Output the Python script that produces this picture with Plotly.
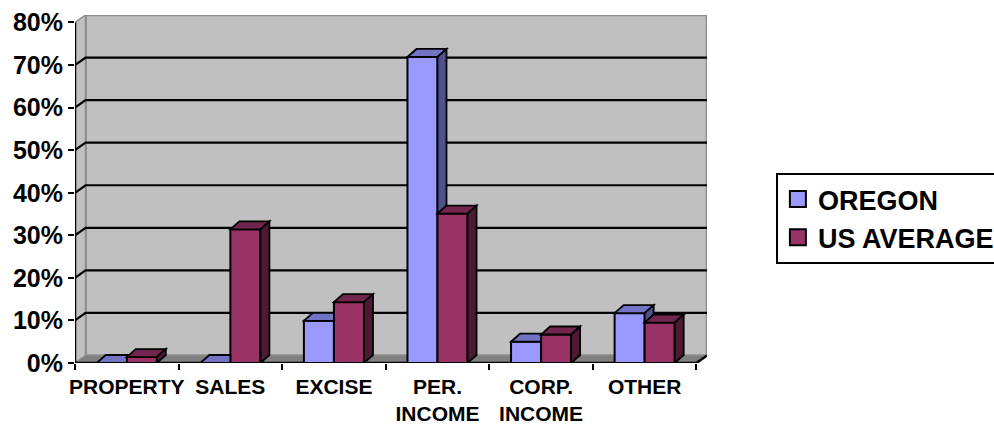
import plotly.graph_objects as go

# ---------------- data ----------------
categories = ["PROPERTY", "SALES", "EXCISE", "PER.<br>INCOME", "CORP.<br>INCOME", "OTHER"]
oregon = [0.0, 0.0, 9.9, 71.9, 5.0, 11.7]
us_average = [1.4, 31.4, 14.3, 35.1, 6.7, 9.5]
y_tick_values = [0, 10, 20, 30, 40, 50, 60, 70, 80]
y_tick_labels = ["0%", "10%", "20%", "30%", "40%", "50%", "60%", "70%", "80%"]
series_names = ["OREGON", "US AVERAGE"]

# ---------------- style ----------------
FONT = "Liberation Sans, Arial, sans-serif"
C_OR = ("#9999FF", "#7373C6", "#50508C")   # front, top, side
C_US = ("#993366", "#73264D", "#4D1933")
WALL = "#C0C0C0"
FLOOR = "#808080"
EDGE = "#8C8C8C"

BARGAP = 0.42
BW = (1 - BARGAP) / 2          # width of one bar in category units
WALL_DX, WALL_DY = 0.102, 1.76  # depth of chart box (data units)
BAR_DX, BAR_DY = 0.087, 1.88    # depth of each column (data units)
YMAX = 80
n = len(categories)
xs = list(range(n))

fig = go.Figure()
for i, (name, vals, col) in enumerate([(series_names[0], oregon, C_OR),
                                       (series_names[1], us_average, C_US)]):
    fig.add_trace(go.Bar(
        x=xs, y=vals, name=name, showlegend=False, legendgroup=name,
        marker=dict(color=col[0], line=dict(color="black", width=2)),
        hoverinfo="skip",
    ))
# legend keys (square swatches)
for name, col in [(series_names[0], C_OR), (series_names[1], C_US)]:
    fig.add_trace(go.Scatter(
        x=[None], y=[None], mode="markers", name=name, legendgroup=name,
        marker=dict(symbol="square", size=16, color=col[0], line=dict(color="black", width=2)),
    ))

shapes = []

def path(pts):
    return "M " + " L ".join(f"{x},{y}" for x, y in pts) + " Z"

def poly(pts, fill, line="black", width=2, layer="above"):
    shapes.append(dict(type="path", path=path(pts), xref="x", yref="y",
                       fillcolor=fill, line=dict(color=line, width=width), layer=layer))

def seg(pts, color, width=2, layer="below"):
    d = "M " + " L ".join(f"{x},{y}" for x, y in pts)
    shapes.append(dict(type="path", path=d, xref="x", yref="y",
                       line=dict(color=color, width=width), layer=layer))

x0, x1 = -0.5, n - 0.5
# back wall, side wall, floor
poly([(x0 + WALL_DX, WALL_DY), (x1 + WALL_DX, WALL_DY), (x1 + WALL_DX, YMAX + WALL_DY),
      (x0 + WALL_DX, YMAX + WALL_DY)], WALL, EDGE, 2.5, "below")
poly([(x0, 0), (x0 + WALL_DX, WALL_DY), (x0 + WALL_DX, YMAX + WALL_DY), (x0, YMAX)],
     WALL, EDGE, 1.5, "below")
poly([(x0, 0), (x1, 0), (x1 + WALL_DX, WALL_DY), (x0 + WALL_DX, WALL_DY)], FLOOR, EDGE, 1, "below")
# gridlines on the side and back walls
for v in y_tick_values[1:-1]:
    seg([(x0, v), (x0 + WALL_DX, v + WALL_DY), (x1 + WALL_DX, v + WALL_DY)], "black", 2.2)
# front axes
seg([(x0, 0), (x0, YMAX)], "black", 2.5)
seg([(x0, 0), (x1, 0), (x1 + WALL_DX, WALL_DY)], "black", 2.5)

# 3-D top and side faces of columns
s = BAR_DY / BAR_DX
for i in range(n):
    for k, (vals, col) in enumerate([(oregon, C_OR), (us_average, C_US)]):
        h = vals[i]
        xl = i - BW + k * BW
        xr = xl + BW
        h2 = us_average[i] if k == 0 else 0.0   # height of the column hiding this one's right part
        c = min(max(h2, h), h + BAR_DY)
        poly([(xl, h), (xr, h), (xr, c), (xr + (h + BAR_DY - c) / s, h + BAR_DY),
              (xl + BAR_DX, h + BAR_DY)], col[1], "black", 1.8)
        if h > h2:
            poly([(xr, h2), (xr + BAR_DX, h2 + BAR_DY), (xr + BAR_DX, h + BAR_DY), (xr, h)],
                 col[2], "black", 1.8)

fig.update_layout(
    width=994, height=425,
    margin=dict(l=75, r=287, t=15, b=62, autoexpand=False),
    paper_bgcolor="white", plot_bgcolor="white",
    barmode="group", bargap=BARGAP, bargroupgap=0,
    shapes=shapes,
    font=dict(family=FONT, color="black", weight="bold"),
    showlegend=True,
    legend=dict(x=1.109, y=0.546, xanchor="left", yanchor="top",
                font=dict(size=27, family=FONT, color="black", weight="bold"),
                bordercolor="black", borderwidth=2, bgcolor="white",
                itemsizing="trace", itemwidth=30,
                tracegroupgap=1, traceorder="normal"),
    xaxis=dict(range=[x0, x1 + WALL_DX], tickvals=xs, ticktext=categories,
               showgrid=False, zeroline=False, showline=False, ticks="",
               ticklabelstandoff=9, automargin=False,
               tickfont=dict(size=21, family=FONT, color="black", weight="bold"),
               minor=dict(tick0=-0.5, dtick=1, ticks="outside", ticklen=6,
                          tickwidth=2, tickcolor="black", showgrid=False),
               fixedrange=True),
    yaxis=dict(range=[0, YMAX + WALL_DY], tickvals=y_tick_values, ticktext=y_tick_labels,
               showgrid=False, zeroline=False, showline=False, automargin=False,
               ticks="outside", ticklen=6, tickwidth=2, tickcolor="black",
               tickfont=dict(size=25, family=FONT, color="black", weight="bold"),
               fixedrange=True),
)

fig.write_html("out.html", config=dict(displayModeBar=False))
